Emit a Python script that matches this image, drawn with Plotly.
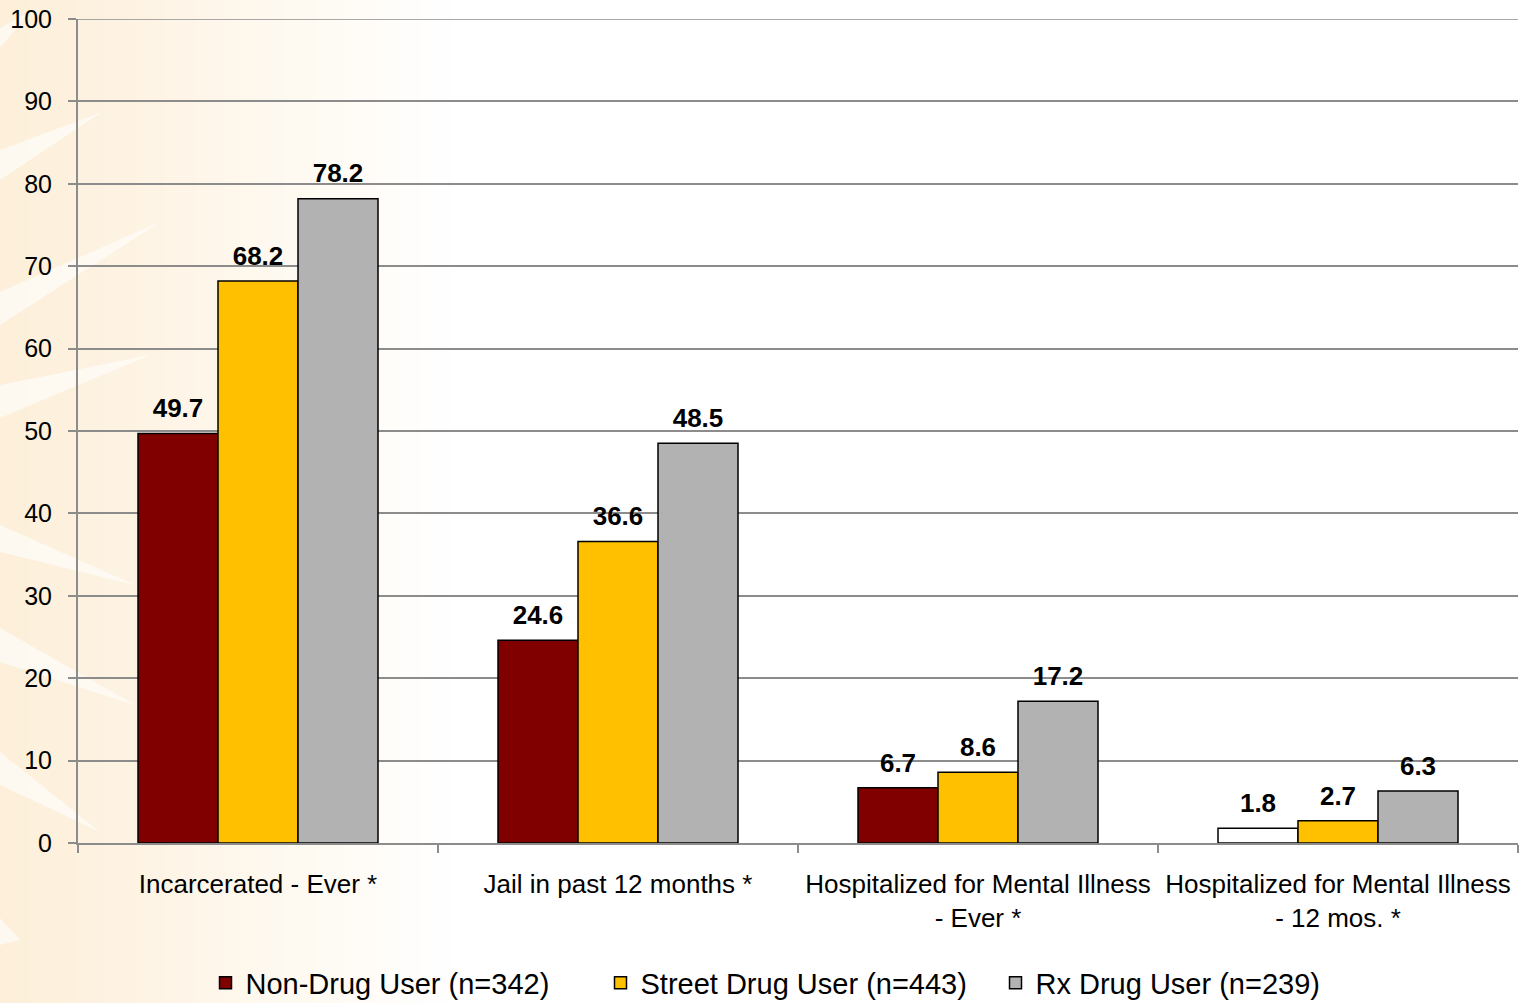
import plotly.graph_objects as go

# dados
categorias = [
    "Incarcerated - Ever *",
    "Jail in past 12 months *",
    "Hospitalized for Mental Illness<br>- Ever *",
    "Hospitalized for Mental Illness<br>- 12 mos. *",
]
nao_usuario = [49.7, 24.6, 6.7, 1.8]
usuario_rua = [68.2, 36.6, 8.6, 2.7]
usuario_rx = [78.2, 48.5, 17.2, 6.3]

nomes = ["Non-Drug User (n=342)", "Street Drug User (n=443)", "Rx Drug User (n=239)"]
cores = ["#800000", "#FFC000", "#B2B2B2"]

fonte = "Arial, Liberation Sans, sans-serif"
cinza = "#8C8C8C"

# área do gráfico em pixels
ml, mt, mr, mb = 78, 19, 11, 160
W, H = 1529, 1003
pw, ph = W - ml - mr, H - mt - mb


def px_x(x):
    return (x - ml) / pw


def px_y(y):
    return (mt + ph - y) / ph


fig = go.Figure()
for i, (nome, valores, cor) in enumerate(zip(nomes, [nao_usuario, usuario_rua, usuario_rx], cores)):
    cor_barras = [cor] * len(valores)
    if nome.startswith("Non"):
        # a última barra aparece em branco no original
        cor_barras[-1] = "#FFFFFF"
    fig.add_trace(go.Bar(
        x=categorias, y=valores, name=nome, offsetgroup=str(i),
        marker=dict(color=cor_barras, line=dict(color="black", width=1.5)),
    ))
    # rótulos de valor (scatter agrupado para afastar o texto da barra)
    fig.add_trace(go.Scatter(
        x=categorias, y=valores, offsetgroup=str(i), mode="text+markers",
        marker=dict(size=14, opacity=0), showlegend=False, hoverinfo="skip",
        text=[f"{v:.1f}" for v in valores], textposition="top center",
        textfont=dict(family=fonte, size=26, color="black", weight="bold"),
        cliponaxis=False,
    ))

# fundo em degradê (pêssego -> branco) à esquerda
faixas = 30
for i in range(faixas):
    x0 = i * 15
    t = i / faixas
    r = 253 + (255 - 253) * t
    g = 239 + (255 - 239) * t
    b = 217 + (255 - 217) * t
    fig.add_shape(type="rect", xref="paper", yref="paper",
                  x0=px_x(x0), x1=px_x(x0 + 16), y0=px_y(H), y1=px_y(0),
                  fillcolor=f"rgb({r:.0f},{g:.0f},{b:.0f})", line=dict(width=0), layer="below")

# raios brancos do fundo (decoração)
raios = [
    ((0, 48), (0, 28), (30, 12)),
    ((0, 180), (0, 150), (102, 112)),
    ((0, 325), (0, 292), (160, 222)),
    ((0, 418), (0, 385), (150, 355)),
    ((0, 552), (0, 525), (135, 585)),
    ((0, 662), (0, 628), (135, 705)),
    ((0, 785), (0, 752), (100, 832)),
    ((0, 945), (0, 918), (20, 940)),
]
for a, b_, c in raios:
    caminho = (f"M {px_x(a[0])},{px_y(a[1])} L {px_x(b_[0])},{px_y(b_[1])} "
               f"L {px_x(c[0])},{px_y(c[1])} Z")
    fig.add_shape(type="path", xref="paper", yref="paper", path=caminho,
                  fillcolor="rgba(255,255,255,0.6)", line=dict(width=0), layer="below")

# linha de grade do topo (100), que o plotly não desenha na borda
fig.add_shape(type="line", xref="paper", yref="y", x0=0, x1=1, y0=100, y1=100,
              line=dict(color=cinza, width=1.5), layer="below")

fig.update_layout(
    width=W, height=H,
    margin=dict(l=ml, r=mr, t=mt, b=mb, autoexpand=False),
    paper_bgcolor="white", plot_bgcolor="rgba(0,0,0,0)",
    barmode="group", bargap=1/3, bargroupgap=0,
    scattermode="group", scattergap=1/3,
    font=dict(family=fonte, size=25, color="black"),
    legend=dict(orientation="h", x=0.5, xanchor="center",
                yref="container", y=0.02, yanchor="middle",
                font=dict(size=29), itemwidth=30, entrywidth=350, traceorder="normal",
                bgcolor="rgba(0,0,0,0)"),
    showlegend=True,
)
fig.update_yaxes(range=[0, 100], dtick=10, showgrid=True, gridcolor=cinza, gridwidth=1.5,
                 showline=True, linecolor=cinza, linewidth=2, ticks="outside", ticklen=8,
                 tickcolor=cinza, tickwidth=2, tickfont=dict(size=25), zeroline=False,
                 ticklabelstandoff=11, automargin=False)
fig.update_xaxes(showline=True, linecolor=cinza, linewidth=2, ticks="outside",
                 tickson="boundaries", ticklen=8, tickcolor=cinza, tickwidth=2,
                 tickfont=dict(size=26), ticklabelstandoff=17, automargin=False)

# remove a margem padrão do body para a figura ocupar a janela toda
fig.write_html("out.html", config={"displayModeBar": False},
               post_script="document.body.style.margin='0';")
